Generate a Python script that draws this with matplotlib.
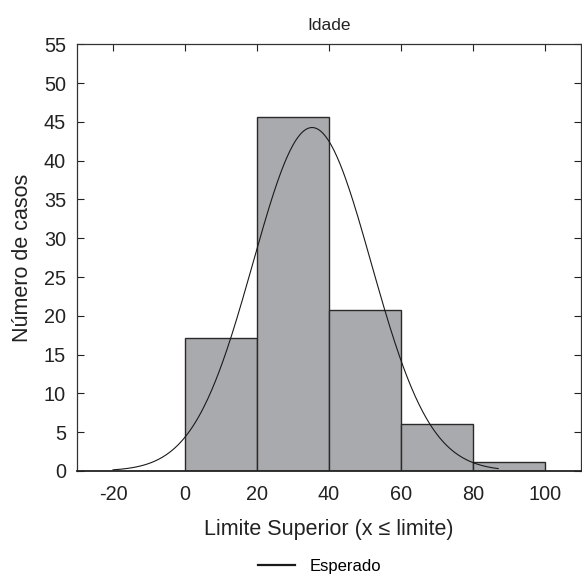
import numpy as np
import matplotlib
matplotlib.use("Agg")
import matplotlib.pyplot as plt

plt.rcParams['font.family'] = ['Liberation Sans', 'DejaVu Sans']
plt.rcParams['axes.unicode_minus'] = False

# Data
bin_edges = [0, 20, 40, 60, 80, 100]
counts = [17.1, 45.6, 20.8, 6.0, 1.1]
x_ticks = [-20, 0, 20, 40, 60, 80, 100]
y_ticks = [0, 5, 10, 15, 20, 25, 30, 35, 40, 45, 50, 55]
# Expected normal curve parameters
fit_mean = 35.3
fit_sd = 16.4
fit_n = 91
curve_range = (-20, 87)

fig = plt.figure(figsize=(5.82, 5.78), dpi=100)
ax = fig.add_axes([77/582, 1-471/578, (581-77)/582, (471-44.3)/578])

lefts = bin_edges[:-1]
widths = np.diff(bin_edges)
ax.bar(lefts, counts, width=widths, align='edge', color='#a9aaad',
       edgecolor='#2a2a2a', linewidth=1.0, zorder=2)

xs = np.linspace(curve_range[0], curve_range[1], 400)
bw = bin_edges[1] - bin_edges[0]
ys = fit_n * bw / (fit_sd * np.sqrt(2*np.pi)) * np.exp(-0.5*((xs-fit_mean)/fit_sd)**2)
line, = ax.plot(xs, ys, color='#1a1a1a', linewidth=0.8, zorder=3, label='Esperado')

ax.set_xlim(-30, 110)
ax.set_ylim(0, 55)
ax.set_xticks(x_ticks)
ax.set_yticks(y_ticks)
ax.tick_params(axis='y', direction='in', length=5, width=0.8, labelsize=14.3,
               pad=8, right=True, colors='#222222')
ax.tick_params(axis='x', direction='in', length=5, width=0.8, labelsize=14.3, pad=10,
               top=True, bottom=False, colors='#222222')
for s in ax.spines.values():
    s.set_linewidth(0.9)
    s.set_color('#333333')
ax.spines['bottom'].set_linewidth(1.3)
ax.spines['bottom'].set_color('#222222')

ax.set_title('Idade', fontsize=12.5, pad=10, color='#222222')
ax.set_xlabel('Limite Superior (x ≤ limite)', fontsize=15.5, labelpad=11, color='#222222')
ax.set_ylabel('Número de casos', fontsize=15.5, labelpad=8, color='#222222')

leg = fig.legend(handles=[line], loc='center', bbox_to_anchor=(0.55, 0.02),
                 frameon=False, fontsize=12, handlelength=2.2, handletextpad=0.9)
for h in leg.get_lines():
    h.set_linewidth(1.6)

fig.savefig('out.png', dpi=100)
